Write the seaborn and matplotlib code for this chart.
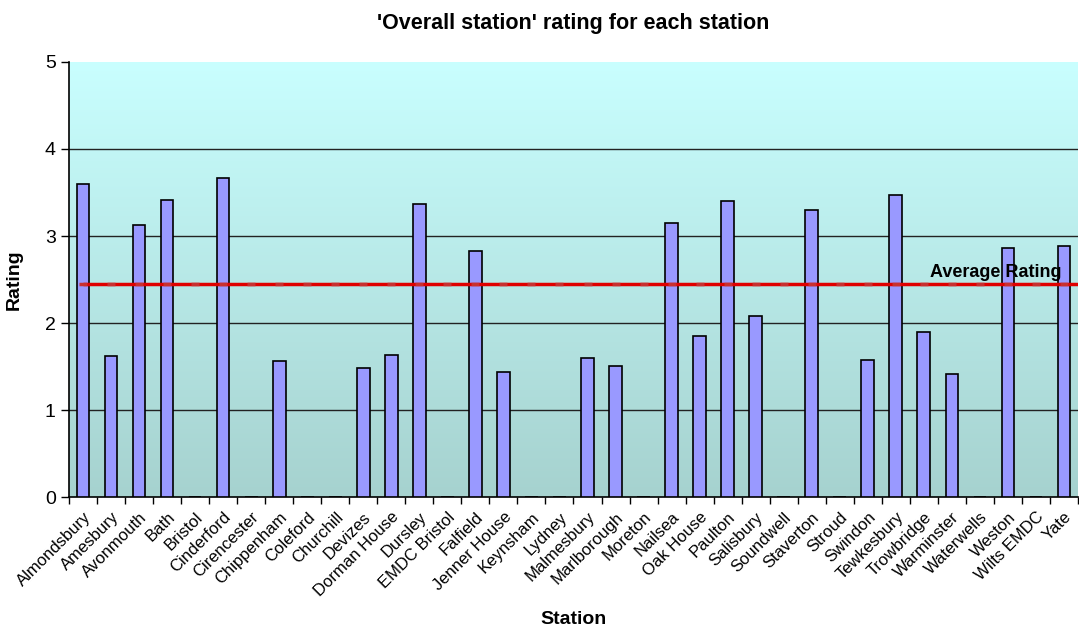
import matplotlib
matplotlib.use("Agg")
import matplotlib.pyplot as plt
import seaborn as sns
import numpy as np
import pandas as pd
from matplotlib.colors import LinearSegmentedColormap

stations = ["Almondsbury", "Amesbury", "Avonmouth", "Bath", "Bristol", "Cinderford",
            "Cirencester", "Chippenham", "Coleford", "Churchill", "Devizes", "Dorman House",
            "Dursley", "EMDC Bristol", "Falfield", "Jenner House", "Keynsham", "Lydney",
            "Malmesbury", "Marlborough", "Moreton", "Nailsea", "Oak House", "Paulton",
            "Salisbury", "Soundwell", "Staverton", "Stroud", "Swindon", "Tewkesbury",
            "Trowbridge", "Warminster", "Waterwells", "Weston", "Wilts EMDC", "Yate"]
ratings = [3.60, 1.62, 3.13, 3.41, 0, 3.67,
           0, 1.56, 0, 0, 1.48, 1.63,
           3.37, 0, 2.83, 1.44, 0, 0,
           1.60, 1.51, 0, 3.15, 1.85, 3.40,
           2.08, 0, 3.30, 0, 1.57, 3.47,
           1.90, 1.41, 0, 2.86, 0, 2.89]
average_rating = 2.45

df = pd.DataFrame({"Station": stations, "Rating": ratings})

sns.set_style("white")
plt.rcParams['font.family'] = ['Liberation Sans', 'DejaVu Sans']
plt.rcParams['text.color'] = 'black'
plt.rcParams['axes.labelcolor'] = 'black'
plt.rcParams['xtick.color'] = 'black'
plt.rcParams['ytick.color'] = 'black'

fig = plt.figure(figsize=(10.79, 6.26), dpi=100)
ax = fig.add_axes([0.064, 0.206, 0.935, 0.695])

# gradient background
grad = LinearSegmentedColormap.from_list("bg", ["#a6d2cf", "#c9ffff"])
ax.imshow(np.linspace(0, 1, 256).reshape(-1, 1), cmap=grad, origin="lower",
          extent=[0, 1, 0, 1], transform=ax.transAxes, aspect="auto", zorder=0)

sns.barplot(data=df, x="Station", y="Rating", order=stations, color="#9999ff",
            saturation=1, width=0.45, edgecolor="black", linewidth=1.2, ax=ax, zorder=3)

n = len(stations)
ax.set_xlim(-0.5, n - 0.5)
ax.set_ylim(0, 5)

# gridlines
for y in range(1, 5):
    ax.axhline(y, color="#222222", linewidth=1, zorder=1)

# average line
ax.plot([0, n - 0.5], [average_rating, average_rating], color="#e00000", linewidth=2.5,
        zorder=4, solid_capstyle="butt")
ax.plot(np.arange(n), [average_rating] * n, linestyle="none", marker="_", markersize=6,
        markeredgewidth=2.5, color="#c83030", zorder=4)
ax.text(34.9, average_rating + 0.03, "Average Rating", fontsize=13, fontweight="bold",
        ha="right", va="bottom", zorder=5)

# ticks
ax.set_yticks(range(0, 6))
ax.tick_params(axis="y", labelsize=14, length=6, width=1, direction="out", left=True)
ax.set_xticks(np.arange(n + 1) - 0.5)
ax.set_xticklabels([])
ax.tick_params(axis="x", which="major", length=5, width=1, direction="out", bottom=True)
ax.set_xticks(np.arange(n), minor=True)
ax.set_xticklabels(stations, minor=True, rotation=45, ha="right", rotation_mode="anchor",
                   fontsize=12)
ax.tick_params(axis="x", which="minor", length=0, pad=9)

for side in ["top", "right"]:
    ax.spines[side].set_visible(False)
for side in ["left", "bottom"]:
    ax.spines[side].set_color("black")
    ax.spines[side].set_linewidth(1.2)

ax.set_xlabel("Station", fontsize=14, fontweight="bold", labelpad=8)
ax.set_ylabel("Rating", fontsize=14, fontweight="bold", labelpad=16)
ax.set_title("'Overall station' rating for each station", fontsize=15.5, fontweight="bold", pad=24)

fig.savefig("out.png", dpi=100)
